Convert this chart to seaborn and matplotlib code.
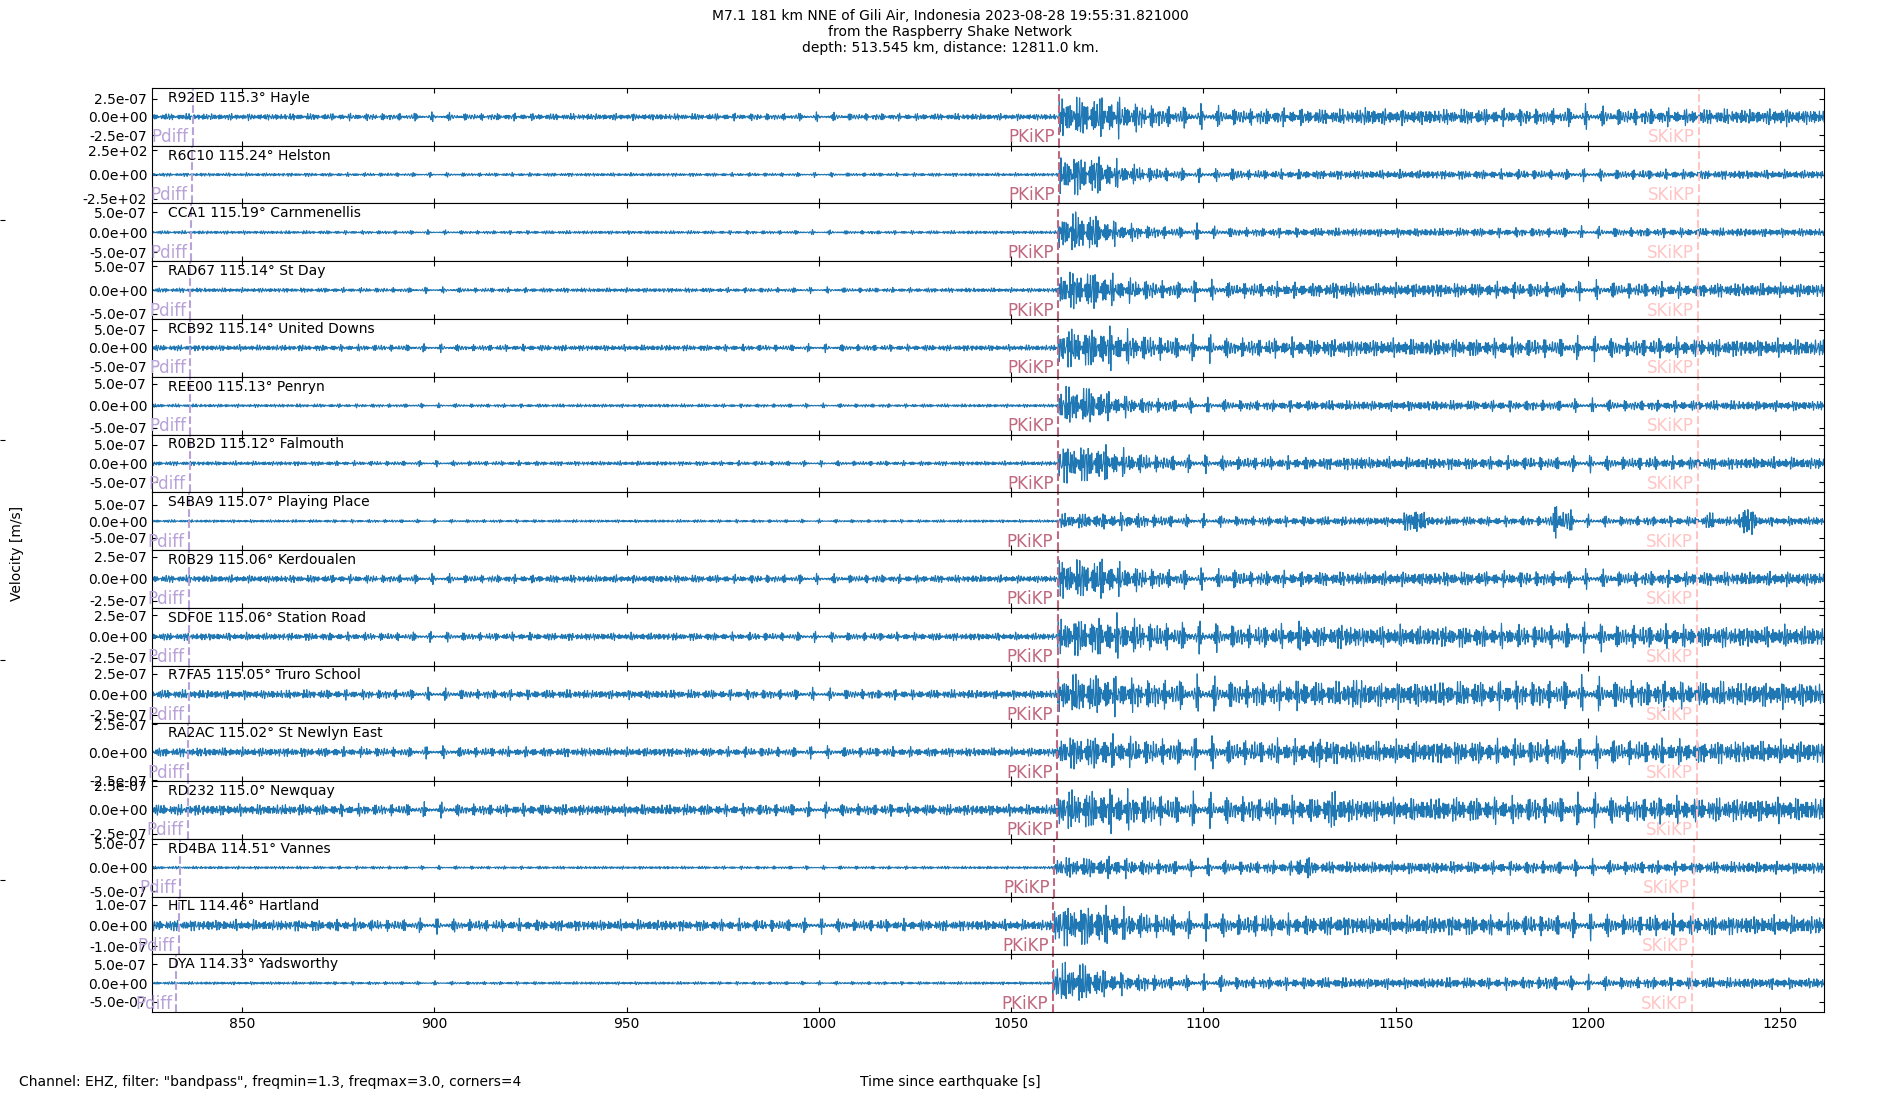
"""Raspberry Shake record section: M7.1 Gili Air event, 16 stations."""

import matplotlib
matplotlib.use("Agg")
import matplotlib.pyplot as plt
import matplotlib.transforms as mtransforms
import numpy as np
import seaborn as sns

# --- stations (top to bottom) ---
stations = ["R92ED", "R6C10", "CCA1", "RAD67", "RCB92", "REE00", "R0B2D", "S4BA9",
            "R0B29", "SDF0E", "R7FA5", "RA2AC", "RD232", "RD4BA", "HTL", "DYA"]
distances = ["115.3", "115.24", "115.19", "115.14", "115.14", "115.13", "115.12", "115.07",
             "115.06", "115.06", "115.05", "115.02", "115.0", "114.51", "114.46", "114.33"]
places = ["Hayle", "Helston", "Carnmenellis", "St Day", "United Downs", "Penryn", "Falmouth",
          "Playing Place", "Kerdoualen", "Station Road", "Truro School", "St Newlyn East",
          "Newquay", "Vannes", "Hartland", "Yadsworthy"]

# phase arrival times [s since origin]
pdiff_times = [837.2, 837.0, 836.8, 836.5, 836.5, 836.5, 836.4, 836.2,
               836.2, 836.2, 836.1, 836.0, 835.9, 833.9, 833.5, 832.9]
pkikp_times = [1062.5, 1062.4, 1062.3, 1062.2, 1062.2, 1062.2, 1062.2, 1062.1,
               1062.1, 1062.1, 1062.1, 1062.0, 1062.0, 1061.1, 1061.0, 1060.8]
skikp_times = [1228.9, 1228.8, 1228.7, 1228.6, 1228.6, 1228.6, 1228.6, 1228.5,
               1228.5, 1228.5, 1228.5, 1228.4, 1228.4, 1227.5, 1227.3, 1227.1]

# axis scale per trace and the labelled tick
ylim_max = [3.96e-7, 2.98e2, 7.2e-7, 6.1e-7, 7.9e-7, 6.6e-7, 7.7e-7, 8.8e-7,
            3.3e-7, 3.4e-7, 3.5e-7, 2.58e-7, 3.0e-7, 6.1e-7, 1.4e-7, 7.7e-7]
tick_values = [2.5e-7, 2.5e2, 5e-7, 5e-7, 5e-7, 5e-7, 5e-7, 5e-7,
               2.5e-7, 2.5e-7, 2.5e-7, 2.5e-7, 2.5e-7, 5e-7, 1e-7, 5e-7]

# envelope levels (fraction of the panel half-height)
noise_levels = [0.13, 0.07, 0.07, 0.09, 0.12, 0.07, 0.09, 0.06,
                0.15, 0.15, 0.18, 0.18, 0.22, 0.06, 0.22, 0.06]
burst_levels = [0.78, 0.78, 0.78, 0.75, 0.78, 0.75, 0.75, 0.30,
                0.78, 0.75, 0.78, 0.65, 0.78, 0.40, 0.80, 0.80]
burst_lengths = [14, 10, 8, 10, 14, 9, 11, 20, 12, 16, 12, 12, 16, 16, 12, 8]
coda_levels = [0.31, 0.18, 0.17, 0.28, 0.35, 0.20, 0.24, 0.18,
               0.28, 0.42, 0.50, 0.45, 0.48, 0.24, 0.38, 0.22]
# later wave packets: (time, level, width)
later_bursts = [
    [(1086, 0.35, 3), (1100, 0.35, 4), (1143, 0.40, 4), (1170, 0.35, 4), (1200, 0.35, 4), (1250, 0.40, 3)],
    [(1108, 0.24, 3), (1140, 0.20, 3), (1205, 0.18, 3)],
    [(1098, 0.24, 3), (1115, 0.18, 3)],
    [(1085, 0.40, 4), (1137, 0.35, 6), (1175, 0.30, 6)],
    [(1090, 0.40, 4), (1102, 0.40, 3), (1143, 0.35, 4), (1215, 0.35, 4)],
    [(1085, 0.30, 3), (1100, 0.20, 4)],
    [(1090, 0.30, 3), (1140, 0.30, 5)],
    [(1155, 0.60, 2.5), (1193, 0.80, 2), (1232, 0.35, 2), (1241.5, 0.65, 2)],
    [(1090, 0.35, 4), (1108, 0.35, 4)],
    [(1100, 0.45, 4), (1126, 0.55, 4), (1137, 0.55, 3)],
    [(1110, 0.50, 3), (1126, 0.60, 4), (1140, 0.65, 4)],
    [(1100, 0.45, 4), (1131, 0.80, 1.5), (1180, 0.40, 4)],
    [(1095, 0.50, 4), (1134, 0.75, 3), (1228, 0.50, 3)],
    [(1126, 0.50, 2.5)],
    [(1115, 0.45, 4), (1124, 0.42, 3)],
    [(1085, 0.35, 4), (1105, 0.26, 4), (1190, 0.30, 3)],
]

phase_names = ["Pdiff", "PKiKP", "SKiKP"]
phase_colors = ["#b9a2d8", "#c0687f", "#ffc4c4"]
x_ticks = [850, 900, 950, 1000, 1050, 1100, 1150, 1200, 1250]
t_start, t_end = 826.6, 1261.4

t = np.arange(t_start, t_end, 0.04)
freqs = np.array([1.33, 1.52, 1.71, 1.94, 2.17, 2.41, 2.63, 2.88])


def build_trace(i):
    """Envelope from the levels above times a band-limited 1.3-3 Hz carrier."""
    dt = t - pkikp_times[i]
    coda = coda_levels[i] + (burst_levels[i] - coda_levels[i]) * np.where(
        dt < burst_lengths[i], 1.0, np.exp(-(dt - burst_lengths[i]) / 8.0))
    env = np.where(dt >= 0, np.maximum(coda, noise_levels[i]), noise_levels[i])
    for tc, level, width in later_bursts[i]:
        env = np.maximum(env, level * np.exp(-0.5 * ((t - tc) / width) ** 2))
    phases = (np.arange(len(freqs)) + 1) * (i + 1) * 0.77
    carrier = np.sin(2 * np.pi * freqs[:, None] * t[None, :] + phases[:, None]).sum(axis=0)
    carrier /= 2.8 * carrier.std()
    return env * carrier * ylim_max[i]


fig, axes = plt.subplots(len(stations), 1, sharex=True, figsize=(19, 11), dpi=100)
fig.subplots_adjust(hspace=0, left=0.080, right=0.960, top=0.920, bottom=0.080)

for i, ax in enumerate(axes):
    sns.lineplot(x=t, y=build_trace(i), ax=ax, color="#1f77b4", linewidth=0.8,
                 estimator=None, sort=False)
    ax.set_xlim(t_start, t_end)
    ax.set_ylim(-ylim_max[i], ylim_max[i])
    tv = tick_values[i]
    ax.set_yticks([-tv, 0, tv], labels=[f"{v:.1e}" for v in (-tv, 0.0, tv)])
    ax.set_xticks(x_ticks)
    ax.tick_params(direction="in", top=True, right=True, labelsize=10)
    ax.text(0.0095, 0.95, f"{stations[i]} {distances[i]}° {places[i]}",
            transform=ax.transAxes, ha="left", va="top", fontsize=10)

    trans = mtransforms.blended_transform_factory(ax.transData, ax.transAxes)
    for name, color, arr in zip(phase_names, phase_colors, [pdiff_times, pkikp_times, skikp_times]):
        ax.axvline(arr[i], color=color, linestyle="--", linewidth=1.5)
        ax.annotate(name, xy=(arr[i], 0), xycoords=trans, xytext=(-3, 2.5),
                    textcoords="offset points", ha="right", va="baseline",
                    color=color, fontsize=12)

for ax in axes[:-1]:
    ax.tick_params(labelbottom=False)

# frameless background axes (its left ticks show at the figure edge)
bg = fig.add_axes([0, 0, 1, 1], frameon=False, zorder=-1)
bg.set_xticks([])
bg.set_yticks([0.2, 0.4, 0.6, 0.8], labels=["", "", "", ""])
bg.tick_params(direction="in")
bg.set_xlim(0, 1)
bg.set_ylim(0, 1)

fig.suptitle("M7.1 181 km NNE of Gili Air, Indonesia 2023-08-28 19:55:31.821000\n"
             "from the Raspberry Shake Network\n"
             "depth: 513.545 km, distance: 12811.0 km.", fontsize=10, y=0.992)
fig.text(0.009, 0.497, "Velocity [m/s]", rotation=90, ha="center", va="center", fontsize=10)
fig.text(0.5, 0.0164, "Time since earthquake [s]", ha="center", va="center", fontsize=10)
fig.text(0.010, 0.0164, 'Channel: EHZ, filter: "bandpass", freqmin=1.3, freqmax=3.0, corners=4',
         ha="left", va="center", fontsize=10)

fig.savefig("out.png", dpi=100)
